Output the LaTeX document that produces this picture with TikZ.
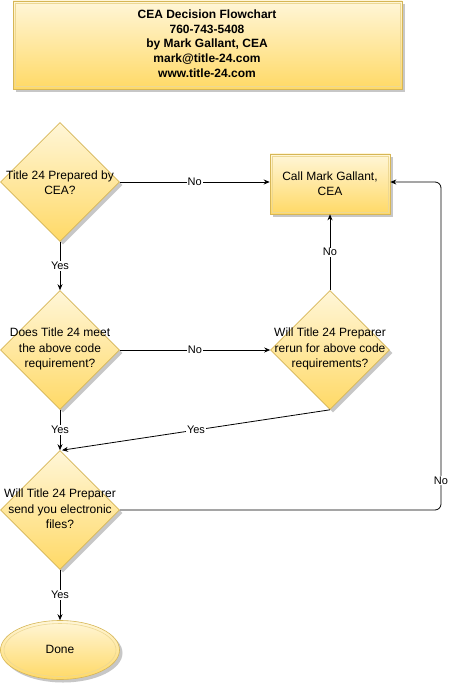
\documentclass[tikz,border=0pt]{standalone}
\usepackage{fontspec}
\setmainfont{Liberation Sans}
\usepackage{tikz}
\usetikzlibrary{arrows.meta,positioning,calc,shapes.geometric,shadows}
\definecolor{celltop}{HTML}{FFF6D8}
\definecolor{cellbot}{HTML}{FFD966}
\definecolor{cellrim}{HTML}{D6B656}
\definecolor{cellglow}{HTML}{EDD894}

\begin{document}
\begin{tikzpicture}[
  x=1pt, y=-1pt,
  cell/.style={draw=cellrim, line width=0.6pt, top color=celltop, bottom color=cellbot,
               drop shadow={shadow xshift=3pt, shadow yshift=-3pt, fill=black!22, opacity=1}},
  box/.style={cell, rectangle, inner sep=0pt},
  decision/.style={cell, diamond, aspect=1, inner sep=0pt,
                   minimum width=119pt, minimum height=119pt},
  ending/.style={cell, ellipse, inner sep=0pt, minimum width=119pt, minimum height=59pt},
  glow/.style={draw=cellglow, line width=0.6pt},
  txt/.style={align=center, inner sep=0pt, font=\fontsize{12}{15.5}\selectfont},
  head/.style={align=center, inner sep=0pt, font=\bfseries\fontsize{12}{14.75}\selectfont},
  flow/.style={-{Stealth[length=6pt,width=5pt]}, line width=0.8pt},
  lbl/.style={fill=white, inner sep=0.8pt, font=\fontsize{11}{13}\selectfont}]

\useasboundingbox (0,0) rectangle (450,687);

% ================= the header ============================================
\node[box, minimum width=389pt, minimum height=88pt] (head) at (207.5,45) {};
\draw[glow] ([shift={(2.5,2.5)}]head.north west) rectangle ([shift={(-2.5,-2.5)}]head.south east);
\node[head] (headt) at (207,43.5)
  {CEA Decision Flowchart\\760-743-5408\\by Mark Gallant, CEA\\mark@title-24.com\\www.title-24.com};

% ================= the shapes ============================================
\node[decision] (d1) at (60,182) {};
\node[txt] (d1t) at (60,182.5) {Title 24 Prepared by\\CEA?};

\node[box, minimum width=120pt, minimum height=60pt] (call) at (330,184) {};
\draw[glow] ([shift={(2.5,2.5)}]call.north west) rectangle ([shift={(-2.5,-2.5)}]call.south east);
\node[txt] (callt) at (330,183.5) {Call Mark Gallant,\\CEA};

\node[decision] (d2) at (60,350) {};
\node[txt] (d2t) at (60,349) {Does Title 24 meet\\the above code\\requirement?};

\node[decision] (d3) at (330,350) {};
\node[txt] (d3t) at (330,349) {Will Title 24 Preparer\\rerun for above code\\requirements?};

\node[decision] (d4) at (60,510) {};
\node[txt] (d4t) at (60,509) {Will Title 24 Preparer\\send you electronic\\files?};

\node[ending] (done) at (60,650) {};
\draw[glow] (done.center) ellipse (56pt and 26.5pt);
\node[txt] (donet) at (60,649) {Done};

% ================= the connectors ========================================
\draw[flow] (d1.east) -- node[lbl] {No} (d1.east -| call.west);
\draw[flow] (d1.south) -- node[lbl] {Yes} (d2.north);
\draw[flow] (d2.east) -- node[lbl] {No} (d3.west);
\draw[flow] (d3.north) -- node[lbl] {No} (call.south);
\draw[flow] (d2.south) -- node[lbl] {Yes} (d4.north);
\draw[flow] (d3.south) -- node[lbl] {Yes} ([xshift=2pt]d4.north);
\draw[flow] (d4.south) -- node[lbl] {Yes} (done.north);

\coordinate (loopB) at (441,510);
\coordinate (loopT) at (441,182);
\draw[flow, rounded corners=6pt] (d4.east) -- (loopB) -- node[lbl, pos=0.09] {No} (loopT)
  -- (d1.east -| call.east);

\end{tikzpicture}
\end{document}
